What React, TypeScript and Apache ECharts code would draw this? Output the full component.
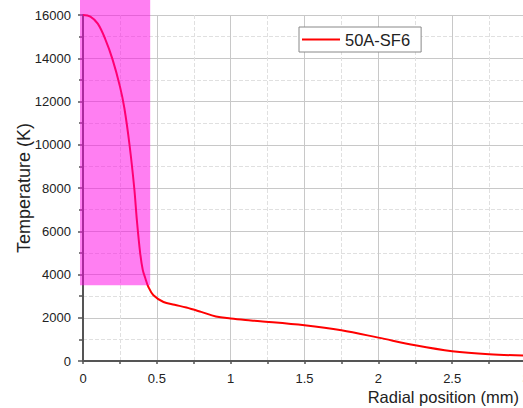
import React, { useEffect, useRef } from "react";
import * as echarts from "echarts";

const radius = [0, 0.05, 0.1, 0.15, 0.2, 0.25, 0.28, 0.315, 0.347, 0.365, 0.387, 0.405, 0.421, 0.443, 0.477, 0.545, 0.62, 0.7, 0.8, 0.9, 1.0, 1.1, 1.2, 1.5, 1.75, 2.0, 2.25, 2.5, 2.75, 3.0];
const temperature = [16000, 15930, 15600, 14900, 13950, 12700, 11700, 10000, 8000, 6500, 5000, 4200, 3850, 3420, 3040, 2730, 2600, 2470, 2270, 2060, 1965, 1895, 1840, 1650, 1420, 1080, 725, 450, 310, 250];
const seriesName = "50A-SF6";
const highlightXMax = 0.455;
const highlightYMin = 3500;
const yTop = 16000;

export default function App() {
  const ref = useRef<HTMLDivElement>(null);
  useEffect(() => {
    const chart = echarts.init(ref.current!, null, { renderer: "svg" });
    const font = "Arial, 'Liberation Sans', sans-serif";
    chart.setOption({
      animation: false,
      backgroundColor: "#fff",
      textStyle: { fontFamily: font },
      grid: { left: 83, top: 15, bottom: 47, right: 34, containLabel: false, outerBoundsMode: "none" },
      legend: {
        left: 299,
        top: 27,
        backgroundColor: "#fff",
        borderColor: "#888",
        borderWidth: 1,
        borderRadius: 0,
        padding: [4, 11, 4, 3],
        icon: "rect",
        itemWidth: 38,
        itemHeight: 2,
        itemGap: 5,
        textStyle: { fontSize: 16.5, color: "#222", fontFamily: font },
        data: [seriesName],
      },
      xAxis: {
        type: "value",
        min: 0,
        max: 3,
        interval: 0.5,
        name: "Radial position (mm)",
        nameLocation: "end",
        nameGap: -7,
        nameMoveOverlap: false,
        nameTextStyle: { fontSize: 16.5, color: "#222", align: "right", verticalAlign: "top", padding: [27, 0, 0, 0], fontFamily: font },
        axisLine: { lineStyle: { color: "#555", width: 2 } },
        axisTick: { show: true, inside: false, length: 3, lineStyle: { color: "#555", width: 1.5 } },
        minorTick: { show: true, splitNumber: 2, length: 3, lineStyle: { color: "#555", width: 1.5 } },
        axisLabel: { fontSize: 13, color: "#222", margin: 11, fontFamily: font, formatter: (v: number) => String(v) },
        splitLine: { show: true, lineStyle: { color: "#c8c8c8", width: 1 } },
        minorSplitLine: { show: true, lineStyle: { color: "#e0e0e0", width: 1, type: "dashed" } },
      },
      yAxis: {
        type: "value",
        min: 0,
        max: yTop,
        interval: 2000,
        name: "Temperature (K)",
        nameLocation: "middle",
        nameGap: 50,
        nameMoveOverlap: false,
        nameTextStyle: { fontSize: 18, color: "#222", fontFamily: font },
        axisLine: { show: true, lineStyle: { color: "#555", width: 2 } },
        axisTick: { show: true, inside: false, length: 5, lineStyle: { color: "#555", width: 1.5 } },
        minorTick: { show: true, splitNumber: 2, length: 4, lineStyle: { color: "#555", width: 1.5 } },
        axisLabel: { fontSize: 13, color: "#222", margin: 12, fontFamily: font, formatter: (v: number) => String(v) },
        splitLine: { show: true, lineStyle: { color: "#c8c8c8", width: 1 } },
        minorSplitLine: { show: true, lineStyle: { color: "#e0e0e0", width: 1, type: "dashed" } },
      },
      series: [
        {
          name: seriesName,
          type: "line",
          data: radius.map((r, i) => [r, temperature[i]]),
          symbol: "none",
          smooth: 0.35,
          lineStyle: { color: "#ff0000", width: 2 },
          itemStyle: { color: "#ff0000" },
        },
      ],
    });
    const pBR = chart.convertToPixel({ gridIndex: 0 }, [highlightXMax, highlightYMin]) as number[];
    const pTL = chart.convertToPixel({ gridIndex: 0 }, [0, yTop]) as number[];
    chart.setOption({
      graphic: [
        {
          type: "rect",
          silent: true,
          z: 100,
          shape: { x: pTL[0] - 3, y: 0, width: pBR[0] - pTL[0] + 3, height: pBR[1] },
          style: { fill: "rgba(255,0,230,0.5)" },
        },
      ],
    });
    return () => chart.dispose();
  }, []);
  return (
    <div style={{ position: "fixed", left: 0, top: 0, width: 523, height: 408, overflow: "hidden", background: "#fff" }}>
      <div ref={ref} style={{ width: 560, height: 408 }} />
    </div>
  );
}
